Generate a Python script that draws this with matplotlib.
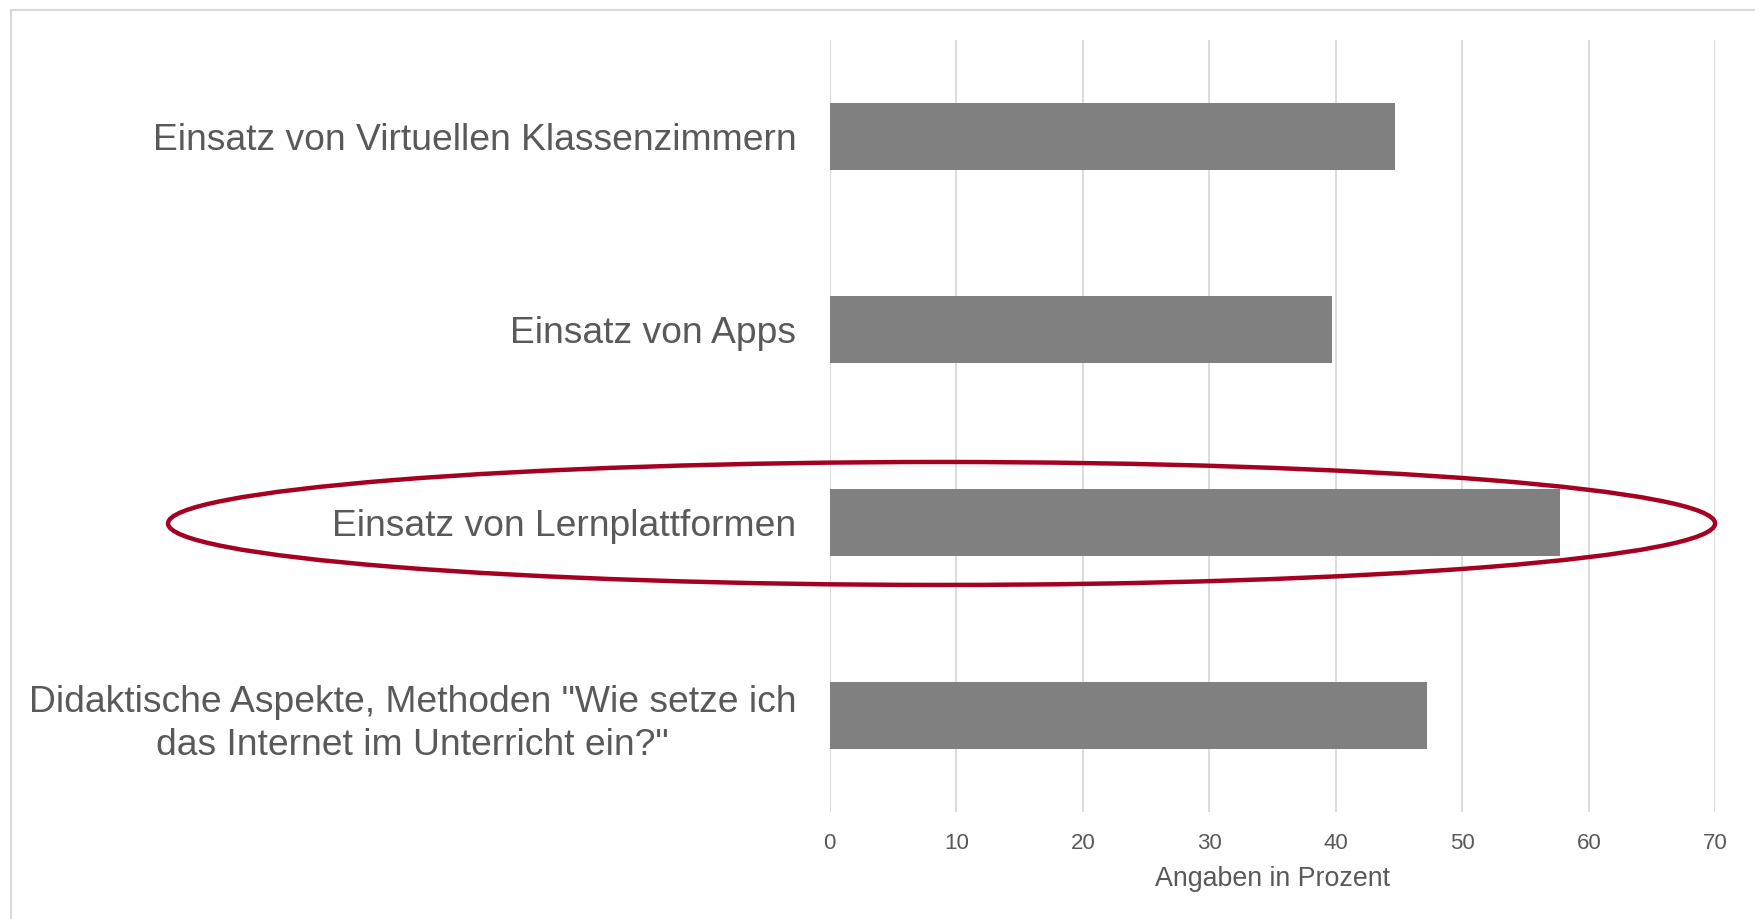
import matplotlib

matplotlib.use("Agg")
import matplotlib.pyplot as plt
from matplotlib.patches import Ellipse, Rectangle

plt.rcParams["font.family"] = ["Liberation Sans", "DejaVu Sans"]

# data (top to bottom as shown)
categories = [
    "Einsatz von Virtuellen Klassenzimmern",
    "Einsatz von Apps",
    "Einsatz von Lernplattformen",
    "Didaktische Aspekte, Methoden \"Wie setze ich\ndas Internet im Unterricht ein?\"",
]
values = [44.7, 39.7, 57.7, 47.2]
x_ticks = [0, 10, 20, 30, 40, 50, 60, 70]
x_label = "Angaben in Prozent"

TEXT = "#595959"
BAR = "#808080"
GRID = "#d9d9d9"
RED = "#a50021"

fig = plt.figure(figsize=(17.55, 9.19), dpi=100)
ax = fig.add_axes([0.4728, 0.1164, 0.5046, 0.8401])

ypos = list(range(len(categories)))[::-1]
ax.barh(ypos, values, height=0.35, color=BAR, zorder=2)

ax.set_xlim(0, 70)
ax.set_ylim(-0.5, len(categories) - 0.5)
ax.set_xticks(x_ticks)
ax.set_xticklabels([str(t) for t in x_ticks], fontsize=16, color=TEXT)
ax.set_yticks(ypos)
ax.set_yticklabels(categories, fontsize=26.8, color=TEXT)
for lbl in ax.get_yticklabels():
    lbl.set_multialignment("center")
    lbl.set_linespacing(1.32)
ax.tick_params(axis="both", length=0)
ax.tick_params(axis="y", pad=24)
ax.tick_params(axis="x", pad=15)
ax.set_xlabel(x_label, fontsize=19.3, color=TEXT, labelpad=9)
ax.grid(axis="x", color=GRID, linewidth=1.3, zorder=0)
for s in ax.spines.values():
    s.set_visible(False)

# highlight ellipse around the Lernplattformen row
fig.add_artist(Ellipse((0.5365, 0.4304), 0.8815, 0.1338, transform=fig.transFigure,
                       fill=False, edgecolor=RED, linewidth=3.2, zorder=5))

# light frame around the chart area
fig.add_artist(Rectangle((11 / 1755, -0.05), 1.2, 1 - 10 / 919 + 0.05,
                         transform=fig.transFigure, fill=False,
                         edgecolor="#d9d9d9", linewidth=1.5))

fig.savefig("out.png", dpi=100)
